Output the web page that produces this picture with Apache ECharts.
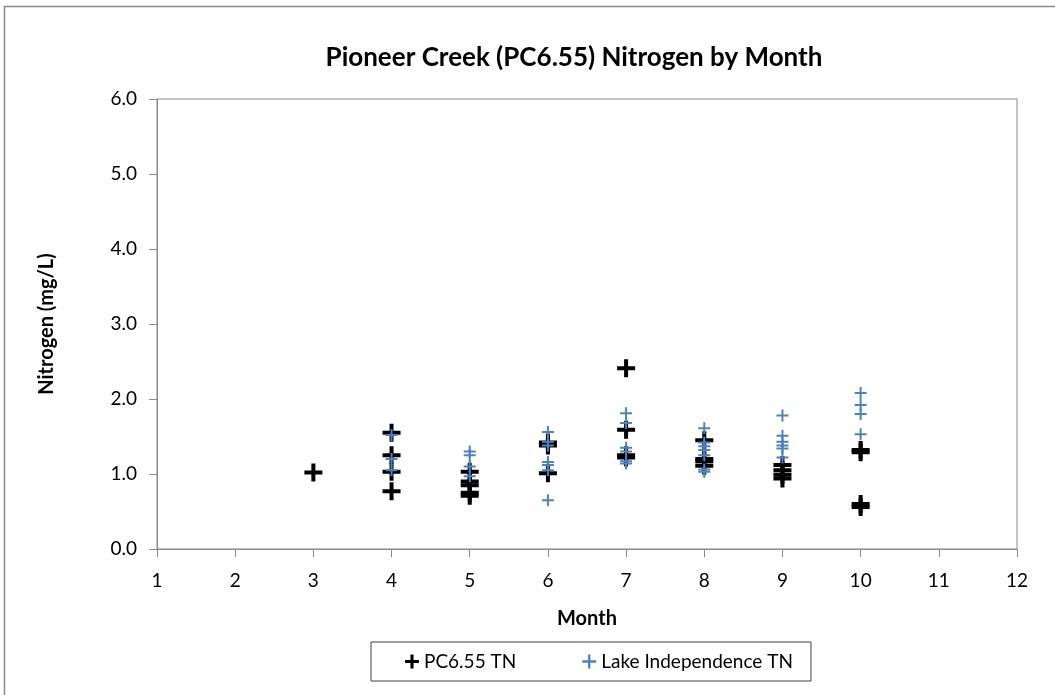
<!DOCTYPE html>
<html>
<head>
<meta charset="utf-8">
<script src="https://cdn.jsdelivr.net/npm/echarts@6/dist/echarts.min.js"></script>
<style>
  html, body { margin: 0; padding: 0; background: #fff; }
  #chart { width: 1055px; height: 695px; }
</style>
</head>
<body>
<div id="chart"></div>
<script>
// values, [month, mg/L]
const pcTN = [
  [3, 1.02],
  [4, 1.55], [4, 1.25], [4, 1.03], [4, 0.77],
  [5, 1.03], [5, 0.9], [5, 0.85], [5, 0.75], [5, 0.71],
  [6, 1.42], [6, 1.38], [6, 1.01],
  [7, 2.41], [7, 1.59], [7, 1.25], [7, 1.22],
  [8, 1.45], [8, 1.2], [8, 1.17], [8, 1.11],
  [9, 1.12], [9, 1.05], [9, 0.99], [9, 0.94],
  [10, 1.32], [10, 1.29], [10, 0.6], [10, 0.56]
]
const lakeTN = [
  [4, 1.52], [4, 1.2], [4, 1.05],
  [5, 1.3], [5, 1.25], [5, 1.1], [5, 0.97],
  [6, 1.56], [6, 1.43], [6, 1.38], [6, 1.16], [6, 1.12], [6, 1.05], [6, 0.65],
  [7, 1.81], [7, 1.68], [7, 1.35], [7, 1.3], [7, 1.17], [7, 1.14],
  [8, 1.61], [8, 1.42], [8, 1.37], [8, 1.32], [8, 1.25], [8, 1.06], [8, 1.03],
  [9, 1.78], [9, 1.51], [9, 1.43], [9, 1.38], [9, 1.34], [9, 1.22],
  [10, 2.08], [10, 1.92], [10, 1.8], [10, 1.53]
]
const seriesNames = ['PC6.55 TN', 'Lake Independence TN']

const font = 'Lato, "Open Sans", sans-serif'
const plus = 'path://M7,0H11V7H18V11H11V18H7V11H0V7H7Z'
const thinPlus = 'path://M5,0H7V5H12V7H7V12H5V7H0V5H5Z'

const myChart = echarts.init(document.getElementById('chart'))
myChart.setOption({
  animation: false,
  graphic: [{
    type: 'rect',
    shape: { x: 4.5, y: 6.5, width: 1070, height: 710 },
    style: { fill: 'none', stroke: '#8a8a8a', lineWidth: 1.5 },
    silent: true, z: -1
  }],
  title: {
    text: 'Pioneer Creek (PC6.55) Nitrogen by Month',
    left: 569, top: 40, textAlign: 'center',
    textStyle: { fontFamily: font, fontSize: 26, fontWeight: 'bold', color: '#000' }
  },
  legend: {
    data: [
      { name: seriesNames[0], icon: plus },
      { name: seriesNames[1], icon: thinPlus }
    ],
    left: 371, top: 642,
    itemWidth: 14, itemHeight: 14, itemGap: 66,
    padding: [10, 18, 10, 34],
    borderColor: '#404040', borderWidth: 1,
    textStyle: { fontFamily: font, fontSize: 19, color: '#000' }
  },
  grid: {
    left: 157, right: 38, top: 99, bottom: 146,
    show: true, borderColor: '#8a8a8a', borderWidth: 1
  },
  xAxis: {
    type: 'value', min: 1, max: 12, interval: 1,
    name: 'Month', nameLocation: 'middle', nameGap: 60,
    nameTextStyle: { fontFamily: font, fontSize: 20, fontWeight: 'bold', color: '#000' },
    axisLine: { onZero: false, lineStyle: { color: '#8a8a8a' } },
    axisTick: { length: 8, lineStyle: { color: '#8a8a8a' } },
    axisLabel: { fontFamily: font, fontSize: 19, color: '#000', margin: 22 },
    splitLine: { show: false }
  },
  yAxis: {
    type: 'value', min: 0, max: 6, interval: 1,
    name: 'Nitrogen (mg/L)', nameLocation: 'middle', nameGap: 100, nameRotate: 90,
    nameTextStyle: { fontFamily: font, fontSize: 20, fontWeight: 'bold', color: '#000' },
    axisLine: { show: true, lineStyle: { color: '#8a8a8a' } },
    axisTick: { show: true, length: 8, lineStyle: { color: '#8a8a8a' } },
    axisLabel: {
      fontFamily: font, fontSize: 19, color: '#000', margin: 20,
      formatter: v => v.toFixed(1)
    },
    splitLine: { show: false }
  },
  series: [
    {
      name: seriesNames[0], type: 'scatter', data: pcTN,
      symbol: plus, symbolSize: 18,
      itemStyle: { color: '#000', opacity: 1 }
    },
    {
      name: seriesNames[1], type: 'scatter', data: lakeTN,
      symbol: thinPlus, symbolSize: 12,
      itemStyle: { color: '#4f81bd', opacity: 1 }
    }
  ]
})
</script>
</body>
</html>
